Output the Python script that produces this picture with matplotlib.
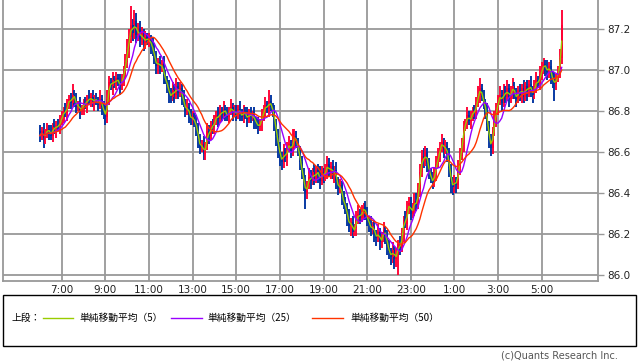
import numpy as np
import pandas as pd
import matplotlib
matplotlib.use("Agg")
import matplotlib.pyplot as plt
from matplotlib.patches import Rectangle
from matplotlib.lines import Line2D

plt.rcParams['font.family'] = ['DejaVu Sans', 'Noto Sans CJK JP']

# 5-minute candles starting 6:00 (hours since day start)
start_hour = 6.0
first_open = 86.70

closes = [
    86.68, 86.70, 86.67, 86.69, 86.71, 86.70, 86.68, 86.72, 86.71, 86.73, 86.72, 86.75,
    86.77, 86.80, 86.79, 86.83, 86.86, 86.84, 86.88, 86.86, 86.82, 86.83, 86.80, 86.81,
    86.84, 86.83, 86.86, 86.85, 86.87, 86.84, 86.86, 86.85, 86.83, 86.86, 86.82, 86.80,
    86.77, 86.86, 86.94, 86.92, 86.95, 86.93, 86.96, 86.94, 86.92, 86.95, 86.98, 87.04,
    87.10, 87.16, 87.22, 87.18, 87.24, 87.17, 87.20, 87.15, 87.18, 87.13, 87.16, 87.14,
    87.15, 87.12, 87.10, 87.05, 87.02, 87.04, 87.01, 87.03, 86.97, 86.95, 86.92, 86.88,
    86.87, 86.90, 86.88, 86.92, 86.89, 86.91, 86.87, 86.84, 86.80, 86.82, 86.78, 86.76,
    86.77, 86.74, 86.72, 86.66, 86.62, 86.64, 86.59, 86.63, 86.70, 86.68, 86.73, 86.72,
    86.75, 86.78, 86.76, 86.80, 86.78, 86.81, 86.79, 86.77, 86.80, 86.82, 86.79, 86.80,
    86.78, 86.81, 86.79, 86.77, 86.80, 86.78, 86.76, 86.79, 86.77, 86.78, 86.75, 86.74,
    86.72, 86.74, 86.77, 86.80, 86.83, 86.81, 86.85, 86.82, 86.80, 86.74, 86.68, 86.62,
    86.58, 86.55, 86.60, 86.57, 86.62, 86.64, 86.60, 86.66, 86.68, 86.64, 86.61, 86.55,
    86.50, 86.45, 86.40, 86.44, 86.48, 86.46, 86.50, 86.47, 86.51, 86.49, 86.46, 86.50,
    86.48, 86.51, 86.54, 86.50, 86.53, 86.49, 86.51, 86.46, 86.42, 86.44, 86.38, 86.35,
    86.33, 86.28, 86.24, 86.26, 86.21, 86.23, 86.27, 86.30, 86.28, 86.31, 86.33, 86.30,
    86.27, 86.25, 86.22, 86.24, 86.20, 86.18, 86.21, 86.16, 86.18, 86.22, 86.19, 86.14,
    86.11, 86.09, 86.12, 86.08, 86.10, 86.15, 86.13, 86.20, 86.27, 86.25, 86.32, 86.35,
    86.30, 86.33, 86.36, 86.34, 86.42, 86.50, 86.58, 86.55, 86.60, 86.54, 86.50, 86.47,
    86.45, 86.50, 86.54, 86.58, 86.62, 86.65, 86.61, 86.63, 86.58, 86.52, 86.45, 86.43,
    86.46, 86.44, 86.52, 86.58, 86.64, 86.72, 86.74, 86.78, 86.75, 86.77, 86.80, 86.79,
    86.84, 86.88, 86.91, 86.87, 86.84, 86.80, 86.73, 86.66, 86.62, 86.70, 86.76, 86.81,
    86.85, 86.88, 86.84, 86.90, 86.87, 86.91, 86.86, 86.89, 86.92, 86.88, 86.86, 86.90,
    86.88, 86.91, 86.87, 86.92, 86.89, 86.93, 86.90, 86.88, 86.92, 86.95, 86.93, 86.98,
    87.00, 87.03, 87.01, 86.99, 87.02, 86.97, 86.95, 86.93, 86.96, 86.99, 87.06, 87.22,
]

# upper / lower wick lengths in 0.01 yen
up_wick = [
    3, 2, 4, 2, 3, 2, 3, 2, 4, 2, 3, 3,
    3, 2, 4, 3, 2, 3, 5, 2, 3, 2, 4, 2,
    2, 3, 2, 4, 2, 3, 2, 3, 2, 4, 2, 3,
    3, 4, 3, 2, 4, 2, 3, 2, 4, 3, 4, 4,
    5, 4, 9, 3, 5, 4, 3, 4, 3, 2, 3, 2,
    3, 2, 4, 3, 4, 2, 3, 2, 4, 3, 2, 3,
    3, 4, 3, 4, 2, 3, 2, 3, 2, 4, 2, 3,
    3, 2, 4, 2, 3, 2, 4, 2, 4, 3, 2, 3,
    3, 2, 4, 3, 2, 4, 2, 3, 2, 4, 2, 3,
    3, 2, 4, 2, 3, 2, 4, 2, 3, 2, 4, 2,
    3, 2, 4, 3, 4, 2, 5, 3, 2, 3, 2, 3,
    3, 2, 4, 2, 3, 4, 2, 5, 3, 2, 3, 2,
    3, 2, 4, 2, 4, 3, 2, 4, 2, 3, 4, 3,
    2, 3, 4, 3, 2, 3, 2, 4, 2, 3, 2, 3,
    3, 2, 4, 2, 3, 2, 4, 4, 2, 3, 2, 3,
    3, 2, 4, 2, 3, 2, 4, 2, 3, 4, 2, 3,
    3, 2, 4, 2, 3, 2, 4, 3, 2, 4, 4, 3,
    3, 2, 4, 4, 3, 4, 3, 4, 3, 2, 3, 2,
    3, 2, 4, 4, 3, 4, 2, 3, 2, 4, 2, 3,
    3, 2, 4, 4, 3, 3, 2, 4, 2, 3, 2, 3,
    3, 4, 5, 2, 3, 2, 4, 2, 3, 2, 4, 3,
    3, 4, 2, 3, 2, 4, 2, 3, 4, 2, 3, 2,
    3, 2, 4, 2, 3, 2, 4, 2, 3, 4, 2, 4,
    4, 3, 2, 4, 2, 3, 2, 4, 2, 3, 4, 7,
]
down_wick = [
    3, 2, 5, 3, 2, 4, 2, 3, 2, 4, 2, 3,
    2, 3, 2, 4, 2, 3, 2, 4, 3, 2, 4, 2,
    3, 2, 4, 2, 3, 2, 4, 2, 3, 2, 4, 4,
    4, 3, 3, 2, 4, 2, 3, 2, 4, 2, 3, 2,
    3, 4, 3, 4, 3, 4, 3, 4, 3, 4, 3, 2,
    3, 4, 3, 2, 4, 4, 3, 2, 4, 2, 3, 4,
    3, 2, 4, 2, 3, 2, 4, 2, 3, 2, 4, 3,
    3, 2, 4, 4, 3, 2, 3, 3, 2, 4, 2, 3,
    3, 2, 4, 2, 3, 2, 4, 2, 3, 2, 4, 2,
    3, 2, 4, 2, 3, 2, 4, 2, 3, 2, 4, 3,
    3, 2, 4, 2, 3, 2, 4, 2, 3, 4, 5, 5,
    5, 4, 3, 2, 4, 2, 3, 2, 4, 2, 3, 4,
    3, 4, 8, 3, 2, 4, 2, 3, 2, 4, 4, 2,
    3, 2, 4, 2, 3, 2, 4, 4, 3, 2, 4, 3,
    3, 4, 3, 5, 3, 2, 4, 2, 3, 2, 4, 3,
    3, 4, 3, 2, 4, 4, 2, 4, 3, 2, 4, 4,
    3, 4, 3, 5, 4, 10, 3, 2, 4, 2, 3, 2,
    3, 2, 4, 3, 2, 4, 2, 3, 2, 4, 3, 2,
    3, 2, 4, 2, 3, 2, 4, 2, 3, 4, 5, 4,
    3, 4, 2, 3, 2, 4, 2, 3, 2, 4, 2, 3,
    3, 2, 4, 2, 3, 4, 3, 4, 4, 3, 2, 4,
    3, 2, 4, 2, 3, 2, 4, 2, 3, 2, 4, 2,
    3, 4, 3, 2, 4, 2, 3, 4, 2, 3, 2, 3,
    3, 2, 4, 4, 3, 4, 4, 8, 3, 2, 3, 3,
]

tick_hours = [7, 9, 11, 13, 15, 17, 19, 21, 23, 25, 27, 29]
tick_labels = ["7:00", "9:00", "11:00", "13:00", "15:00", "17:00", "19:00",
               "21:00", "23:00", "1:00", "3:00", "5:00"]
y_ticks = [86.0, 86.2, 86.4, 86.6, 86.8, 87.0, 87.2]

ma_labels = ['単純移動平均（5）', '単純移動平均（25）', '単純移動平均（50）']
ma_colors = ['#99CC00', '#9900FF', '#FF3300']
# the source averages finer bars; on these 5-minute candles the equivalent spans are:
ma_windows = [2, 8, 15]

# ---- build table ----
df = pd.DataFrame({'close': closes})
df['open'] = df['close'].shift(1).fillna(first_open)
df['high'] = df[['open', 'close']].max(axis=1) + np.array(up_wick) * 0.01
df['low'] = df[['open', 'close']].min(axis=1) - np.array(down_wick) * 0.01
df['t'] = start_hour + np.arange(len(df)) / 12.0

W, H = 638, 362
fig = plt.figure(figsize=(W / 100, H / 100), dpi=100)
ax = fig.add_axes([3 / W, 1 - 281 / H, 595 / W, 281 / H])

up_col = '#FF0033'
dn_col = '#0033A0'
colors = np.where(df['close'] >= df['open'], up_col, dn_col)

ax.vlines(df['t'], df['low'], df['high'], colors=colors, linewidth=1.35, zorder=2)
body_bottom = df[['open', 'close']].min(axis=1)
body_h = (df['close'] - df['open']).abs().clip(lower=0.004)
ax.bar(df['t'], body_h, bottom=body_bottom, width=1.0 / 12, color=colors,
       linewidth=0, zorder=2)

for w, c in zip(ma_windows, ma_colors):
    ma = df['close'].rolling(w, min_periods=1).mean()
    ax.plot(df['t'], ma, color=c, linewidth=1.0, zorder=3)

ax.set_xlim(4.31, 31.58)
ax.set_ylim(85.971, 87.341)
ax.set_xticks(tick_hours)
ax.set_xticklabels(tick_labels)
ax.set_yticks(y_ticks)
ax.set_yticklabels([f"{v:.1f}" for v in y_ticks])
ax.yaxis.tick_right()
ax.tick_params(axis='x', length=0, labelsize=7.5, pad=3, labelcolor='#222222')
ax.tick_params(axis='y', length=4, width=1, color='#999999', labelsize=7.5,
               pad=3, labelcolor='#222222')
ax.grid(True, color='#999999', linewidth=1.3, zorder=0)
ax.set_axisbelow(True)
for s in ['left', 'right', 'bottom']:
    ax.spines[s].set_color('#999999')
    ax.spines[s].set_linewidth(1.3)
ax.spines['top'].set_visible(False)

# legend box
fig.patches.append(Rectangle((3 / W, 1 - 346 / H), 633 / W, 51 / H,
                             transform=fig.transFigure, fill=False,
                             edgecolor='black', linewidth=1.0))
ly = 1 - 318 / H
fig.text(12 / W, ly, '上段：', fontsize=7, va='center', ha='left',
         family=['Noto Sans CJK JP'])
seg = [(43, 73, 79), (171, 202, 207), (312, 343, 350)]
for (x0, x1, xt), c, lab in zip(seg, ma_colors, ma_labels):
    fig.lines.append(Line2D([x0 / W, x1 / W], [ly, ly], transform=fig.transFigure,
                            color=c, linewidth=1.0))
    fig.text(xt / W, ly, lab, fontsize=7, va='center', ha='left',
             family=['Noto Sans CJK JP'])

fig.text(618 / W, 1 - 356 / H, '(c)Quants Research Inc.', fontsize=7,
         ha='right', va='center', color='#555555')

fig.savefig('out.png', dpi=100)
